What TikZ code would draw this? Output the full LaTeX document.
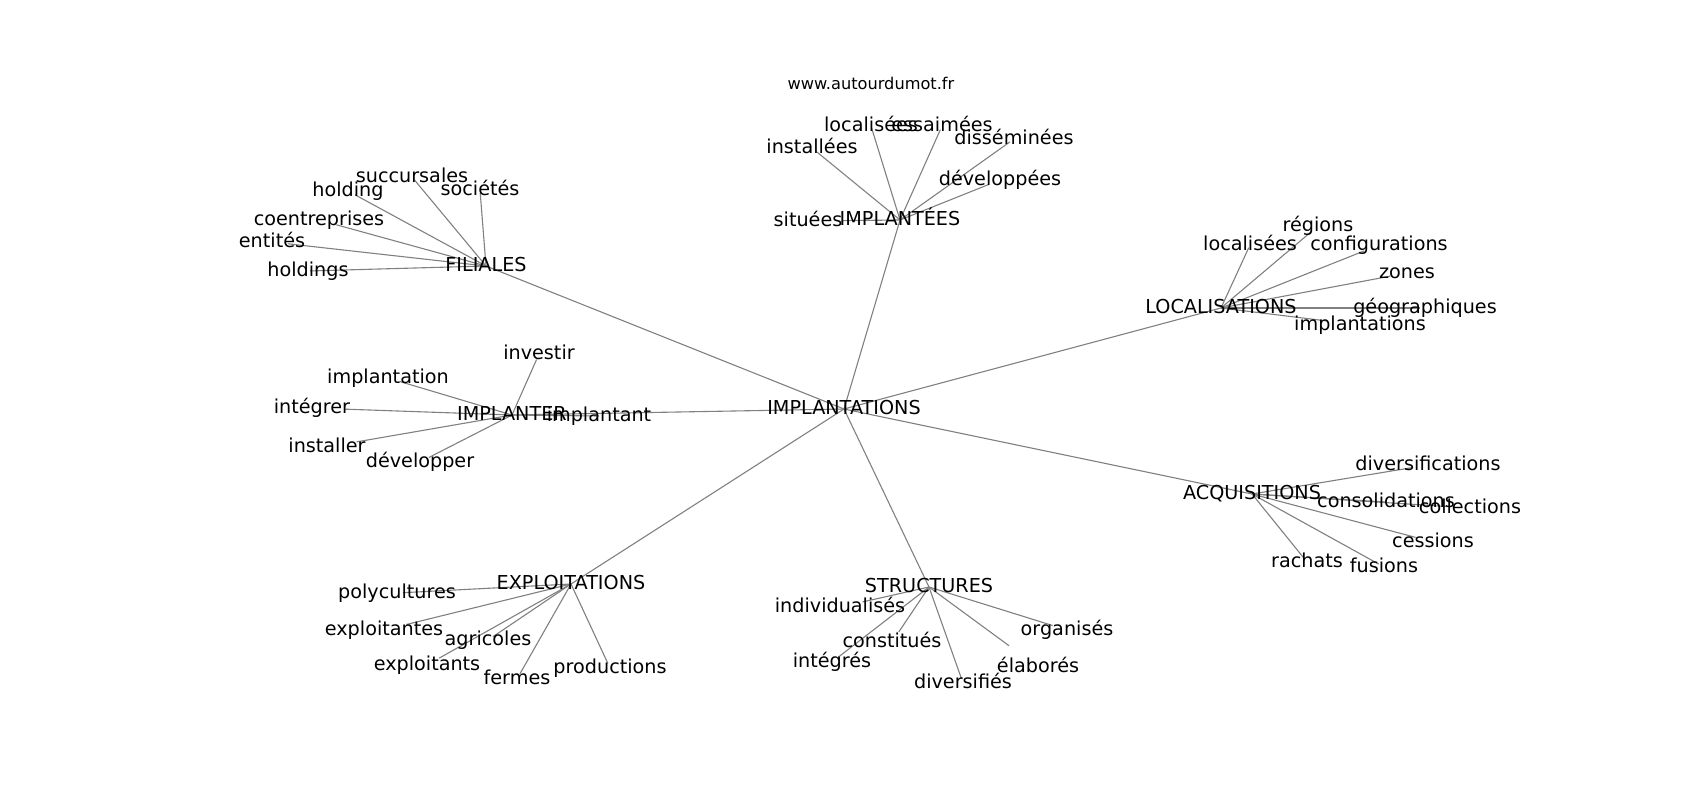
\documentclass[tikz,border=0pt]{standalone}
\usepackage{fontspec}
\setmainfont{DejaVu Sans}
\usetikzlibrary{backgrounds}
\definecolor{edgegray}{RGB}{128,128,128}
\tikzset{
  word/.style={inner sep=0pt, text height=1.04em, text depth=0em, font=\fontsize{19.2}{23}\selectfont},
  site/.style={inner sep=0pt, text height=1.0em, text depth=0em, font=\fontsize{16.2}{19}\selectfont},
  edge/.style={draw=edgegray, line width=1.1pt}
}

\begin{document}
\begin{tikzpicture}[x=1pt, y=-1pt]
  \useasboundingbox (0,0) rectangle (1700,800);
  \node[site] (site) at (871,84) {www.autourdumot.fr};
  % hubs
  \foreach \name/\x/\y/\txt in {implantations/844/409/IMPLANTATIONS, filiales/486/266/FILIALES,
      implantees/900/220/IMPLANTÉES, localisations/1221/308/LOCALISATIONS, implanter/512/415/IMPLANTER,
      acquisitions/1252/494/ACQUISITIONS, exploitations/571/584/EXPLOITATIONS, structures/929/587/STRUCTURES} {
    \node[word] (\name) at (\x,\y) {\txt};
  }
  % leaves
  \foreach \name/\x/\y/\txt in {succursales/412/177/succursales, holding/348/191/holding, societes/480/190/sociétés,
      coentreprises/319/220/coentreprises, entites/272/242/entités, holdings/308/271/holdings,
      localiseesA/871/126/localisées, essaimees/942/126/essaimées, installees/812/148/installées,
      disseminees/1014/139/disséminées, developpees/1000/180/développées, situees/808/221/situées,
      regions/1318/226/régions, localiseesB/1250/245/localisées, configurations/1379/245/configurations,
      zones/1407/273/zones, geographiques/1425/308/géographiques, implantationsL/1360/325/implantations,
      investir/539/354/investir, implantation/388/378/implantation, integrer/312/408/intégrer,
      installer/327/447/installer, developper/420/462/développer, implantant/599/416/implantant,
      diversifications/1428/465/diversifications, consolidations/1386/502/consolidations,
      collections/1470/508/collections, cessions/1433/542/cessions, rachats/1307/562/rachats, fusions/1384/567/fusions,
      polycultures/397/593/polycultures, exploitantes/384/630/exploitantes, agricoles/488/640/agricoles,
      exploitants/427/665/exploitants, fermes/517/679/fermes, productions/610/668/productions,
      individualises/840/607/individualisés, constitues/892/642/constitués, integres/832/662/intégrés,
      diversifies/963/683/diversifiés, elabores/1038/667/élaborés, organises/1067/630/organisés} {
    \node[word] (\name) at (\x,\y) {\txt};
  }
  % connectors under the words
  \begin{scope}[on background layer]
    \foreach \a/\b/\s in {implantations/filiales/0, implantations/implantees/0, implantations/localisations/0,
        implantations/implanter/0, implantations/acquisitions/0, implantations/exploitations/0, implantations/structures/0,
        filiales/succursales/4, filiales/holding/8, filiales/societes/3, filiales/coentreprises/18,
        filiales/entites/16, filiales/holdings/2,
        implantees/localiseesA/2, implantees/essaimees/4, implantees/installees/6, implantees/disseminees/5,
        implantees/developpees/12, implantees/situees/35,
        localisations/regions/8, localisations/localiseesB/3, localisations/configurations/16, localisations/zones/17,
        localisations/geographiques/5, localisations/implantationsL/33,
        implanter/investir/6, implanter/implantation/12, implanter/integrer/33, implanter/installer/30,
        implanter/developper/10, implanter/implantant/0,
        acquisitions/diversifications/15, acquisitions/consolidations/0, acquisitions/collections/23,
        acquisitions/cessions/18, acquisitions/rachats/5, acquisitions/fusions/6,
        exploitations/polycultures/6, exploitations/exploitantes/23, exploitations/agricoles/6,
        exploitations/exploitants/14, exploitations/fermes/6, exploitations/productions/5,
        structures/individualises/23, structures/constitues/12, structures/integres/7,
        structures/diversifies/5, structures/elabores/36, structures/organises/15} {
      \draw[edge, shorten >=\s pt] (\a.center) -- (\b.center);
    }
  \end{scope}
\end{tikzpicture}
\end{document}
